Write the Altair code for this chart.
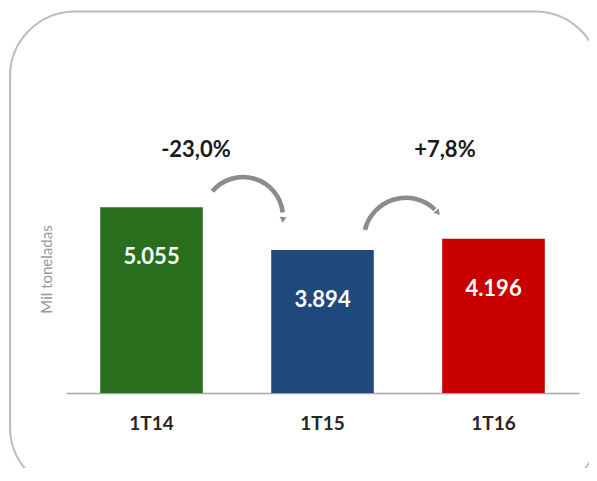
import altair as alt
import pandas as pd

# --- data ---
categories = ["1T14", "1T15", "1T16"]
values = [5055, 3894, 4196]
bar_colors = ["#286E1C", "#1F497D", "#C80000"]
value_labels = ["5.055", "3.894", "4.196"]

change_labels = ["-23,0%", "+7,8%"]
change_x = [0.76, 2.216]          # position between bars (band units)
change_y = [6612, 6612]           # height in data units

arrow_x = [1.035, 1.987]          # arc centres (band units)
arrow_y = [4789, 4169]            # arc centres (data units)
arrow_r = [40, 42]
arrow_t1 = [5.41, 4.95]           # radians
arrow_t2 = [7.74, 7.05]
head_x = [1.268, 2.175]
head_y = [4713, 4903]
head_angle = [4, 320]

FONT = "Lato"
YTITLE = "Mil toneladas"

bars_df = pd.DataFrame({"cat": categories, "v": values, "lab": value_labels})
chg_df = pd.DataFrame({"ax": change_x, "v": change_y, "lab": change_labels})
arc_df = pd.DataFrame({
    "ax": arrow_x, "v": arrow_y,
    "r": [r + 2.3 for r in arrow_r], "r2": [r - 2.3 for r in arrow_r],
    "t1": arrow_t1, "t2": arrow_t2,
})
head_df = pd.DataFrame({"ax": head_x, "v": head_y, "ang": head_angle})
frame_df = pd.DataFrame({"k": [0]})

yscale = alt.Scale(domain=[0, 8000], nice=False, zero=True)
xq = alt.X("ax:Q", scale=alt.Scale(domain=[0, 3], nice=False, zero=False), axis=None)
band_scale = alt.Scale(paddingInner=0.4, paddingOuter=0.2)
yplain = alt.Y("v:Q", scale=yscale, title=YTITLE)

frame = alt.Chart(frame_df).mark_rect(
    fillOpacity=0, stroke="#BDBDBD", strokeWidth=2, cornerRadius=65
).encode(
    x=alt.value(-56), x2=alt.value(534), y=alt.value(-87.5), y2=alt.value(393)
)

xband = alt.X(
    "cat:N", sort=categories, title=None, scale=band_scale,
    axis=alt.Axis(
        labelAngle=0, ticks=False, domainColor="#A6A6A6", domainWidth=1.5,
        labelFont=FONT, labelFontSize=19, labelFontWeight="bold",
        labelColor="#262626", labelPadding=30, labelBaseline="middle", grid=False,
    ),
)

bars = alt.Chart(bars_df).mark_bar().encode(
    x=xband,
    y=alt.Y(
        "v:Q", scale=yscale,
        axis=alt.Axis(
            title=YTITLE, labels=False, ticks=False, grid=False, domain=False,
            titleX=-20, titleY=170, titleAngle=270, titleFontSize=15,
            titleColor="#999999", titleFontWeight="normal", titleFont=FONT,
            titleAlign="center", titleBaseline="middle",
        ),
    ),
    color=alt.Color("cat:N", scale=alt.Scale(domain=categories, range=bar_colors), legend=None),
)

bar_text = alt.Chart(bars_df).mark_text(
    dy=50, font=FONT, fontSize=22, fontWeight="bold", color="#FFFFFF", baseline="middle"
).encode(
    x=alt.X("cat:N", sort=categories, scale=band_scale, axis=None),
    y=yplain,
    text="lab:N",
)

arcs = alt.Chart(arc_df).mark_arc(color="#8C8C8C").encode(
    x=xq,
    y=yplain,
    theta=alt.Theta("t1:Q", scale=None),
    theta2="t2:Q",
    radius=alt.Radius("r:Q", scale=None),
    radius2="r2:Q",
)

heads = alt.Chart(head_df).mark_point(
    shape="triangle-down", filled=True, color="#8C8C8C", size=45, opacity=1
).encode(
    x=xq,
    y=yplain,
    angle=alt.Angle("ang:Q", scale=None),
)

pct = alt.Chart(chg_df).mark_text(
    font=FONT, fontSize=22, fontWeight="bold", color="#1A1A1A", baseline="middle"
).encode(
    x=xq,
    y=yplain,
    text="lab:N",
)

chart = alt.layer(frame, bars, bar_text, arcs, heads, pct).resolve_scale(
    x="independent"
).properties(
    width=513, height=294,
    padding={"left": 58, "top": 91, "right": 10, "bottom": 75},
    autosize=alt.AutoSizeParams(type="none"),
    background="#FFFFFF",
).configure_view(stroke=None)

chart.save("out.html", embed_options={"renderer": "svg", "actions": False})
